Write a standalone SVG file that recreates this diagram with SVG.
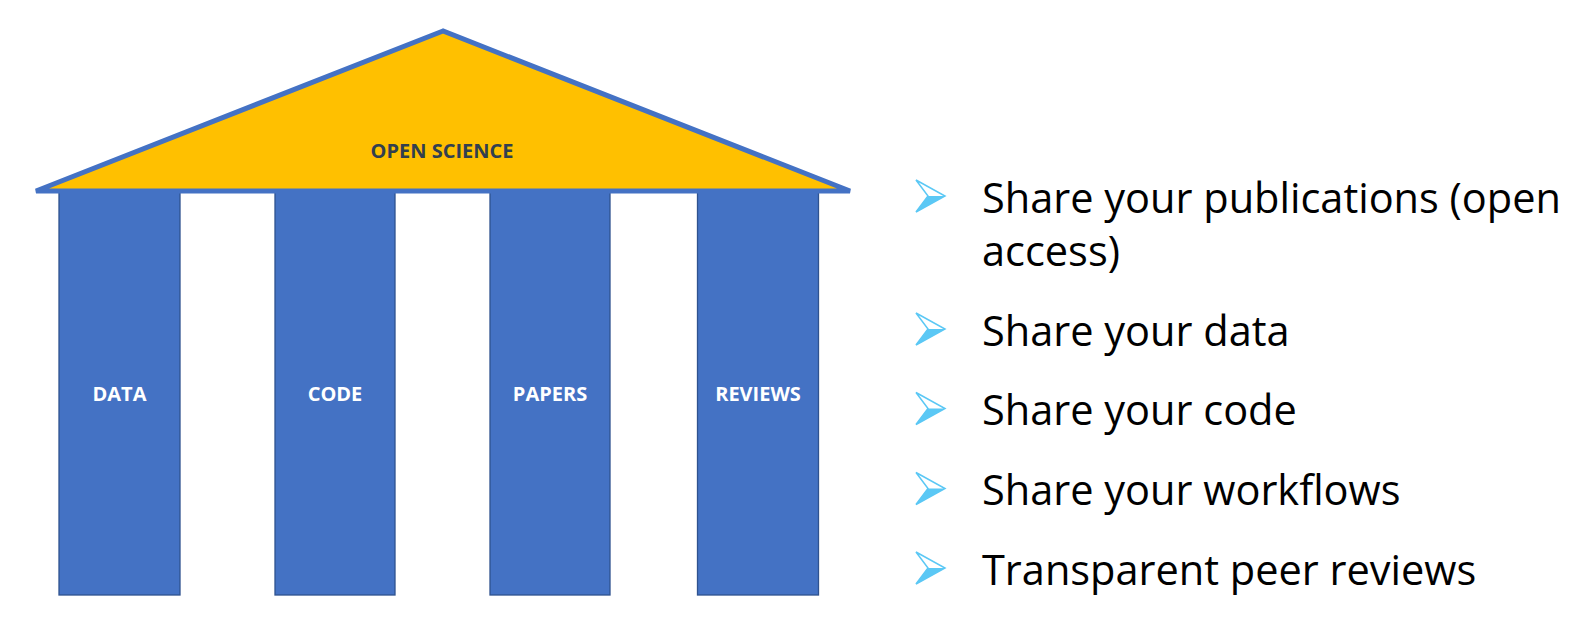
<svg xmlns="http://www.w3.org/2000/svg" width="1595" height="630" viewBox="0 0 1595 630">
<style>
.col{fill:#4472C4;stroke:#2F528F;stroke-width:1.3}
.lbl{font-family:"Open Sans","Liberation Sans",sans-serif;font-weight:bold;font-size:20px;fill:#FFFFFF;text-anchor:middle}
.roof{fill:#FFC000;stroke:#4472C4;stroke-width:5;stroke-linejoin:miter}
.title{font-family:"Open Sans","Liberation Sans",sans-serif;font-weight:bold;font-size:20px;fill:#323F4F;text-anchor:middle}
.txt{font-family:"Open Sans","Liberation Sans",sans-serif;font-size:41.5px;fill:#000000}
.bo{fill:#FFFFFF;stroke:#5BC8F5;stroke-width:1.5;stroke-linejoin:miter}
.bf{fill:#5BC8F5}
</style>
<defs>
<g id="bullet">
<polygon class="bo" points="0,-16 29,0 0,16 12,0"/>
<polygon class="bf" points="12,0 29,0 0,16"/>
</g>
</defs>
<rect width="1595" height="630" fill="#FFFFFF"/>
<g id="col-data"><rect class="col" x="59" y="190" width="121" height="405"/><text class="lbl" x="119.5" y="401">DATA</text></g>
<g id="col-code"><rect class="col" x="275" y="190" width="120" height="405"/><text class="lbl" x="335" y="401">CODE</text></g>
<g id="col-papers"><rect class="col" x="490" y="190" width="120" height="405"/><text class="lbl" x="550" y="401">PAPERS</text></g>
<g id="col-reviews"><rect class="col" x="697.5" y="190" width="121" height="405"/><text class="lbl" x="758" y="401">REVIEWS</text></g>
<g id="roof"><polygon class="roof" points="443,31 36,191 850,191"/><text class="title" x="442" y="158">OPEN SCIENCE</text></g>
<g id="connectors"></g>
<g id="list">
<use href="#bullet" x="916" y="196"/>
<text class="txt" x="982" y="212.5">Share your publications (open</text>
<text class="txt" x="982" y="265.5">access)</text>
<use href="#bullet" x="916" y="329"/>
<text class="txt" x="982" y="345.5">Share your data</text>
<use href="#bullet" x="916" y="408.5"/>
<text class="txt" x="982" y="425">Share your code</text>
<use href="#bullet" x="916" y="488.5"/>
<text class="txt" x="982" y="505">Share your workflows</text>
<use href="#bullet" x="916" y="568"/>
<text class="txt" x="982" y="584.5">Transparent peer reviews</text>
</g>
</svg>
